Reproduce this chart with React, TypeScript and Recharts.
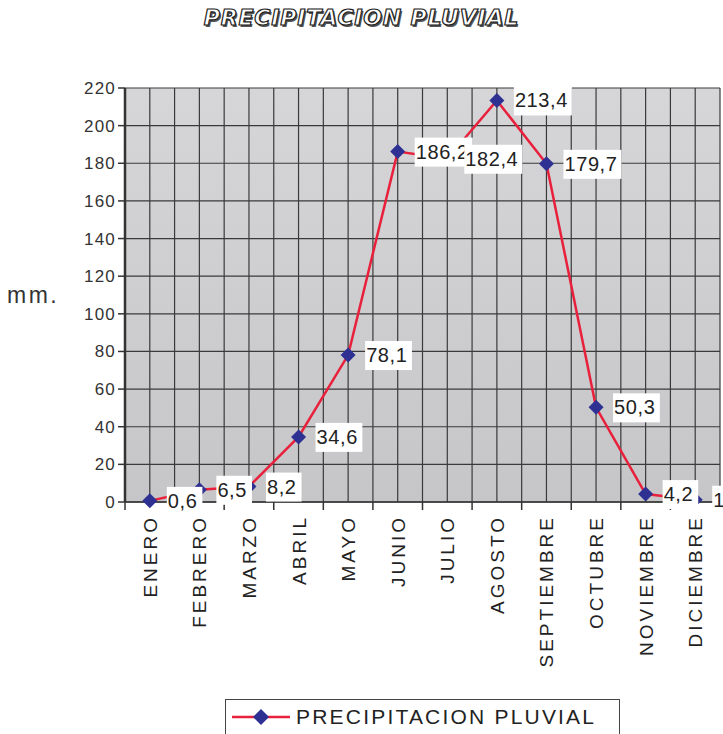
import React from "react";
import {
  LineChart,
  Line,
  XAxis,
  YAxis,
  CartesianGrid,
  Legend,
  LabelList,
} from "recharts";

const MONTHS = [
  "ENERO",
  "FEBRERO",
  "MARZO",
  "ABRIL",
  "MAYO",
  "JUNIO",
  "JULIO",
  "AGOSTO",
  "SEPTIEMBRE",
  "OCTUBRE",
  "NOVIEMBRE",
  "DICIEMBRE",
];
const RAIN = [0.6, 6.5, 8.2, 34.6, 78.1, 186.2, 182.4, 213.4, 179.7, 50.3, 4.2, 1.2];
const Y_TICKS = [0, 20, 40, 60, 80, 100, 120, 140, 160, 180, 200, 220];

const data = MONTHS.map((m, i) => ({ mes: m, pp: RAIN[i] }));

const FONT = "'Liberation Sans', Arial, sans-serif";
const LINE_RED = "#e8203c";
const NAVY = "#2e3192";
const STEP = 595 / 12;

function Diamond({ cx, cy }: any) {
  if (cx == null || cy == null) return null;
  const r = 7.5;
  return (
    <polygon
      points={`${cx},${cy - r} ${cx + r},${cy} ${cx},${cy + r} ${cx - r},${cy}`}
      fill={NAVY}
    />
  );
}

function ValueLabel({ x, y, value }: any) {
  const txt = String(value).replace(".", ",");
  const w = txt.length * 11.2 + 2;
  const left = x + 17;
  return (
    <g>
      <rect x={left} y={y - 14} width={w} height={29} fill="#fff" />
      <text
        x={left + 1}
        y={y + 7}
        fontFamily={FONT}
        fontSize={20}
        letterSpacing={0.6}
        fill="#222"
      >
        {txt}
      </text>
    </g>
  );
}

function MonthTick({ x, y, payload, index }: any) {
  return (
    <g>
      <line x1={x - STEP / 2} y1={y - 8} x2={x - STEP / 2} y2={y} stroke="#333" strokeWidth={1.5} />
      {index === MONTHS.length - 1 && (
        <line x1={x + STEP / 2} y1={y - 8} x2={x + STEP / 2} y2={y} stroke="#333" strokeWidth={1.5} />
      )}
      <text
        transform={`translate(${x + 7},${y + 5}) rotate(-90)`}
        textAnchor="end"
        fontFamily={FONT}
        fontSize={19}
        letterSpacing={3}
        fill="#222"
      >
        {payload.value}
      </text>
    </g>
  );
}

function LegendBox() {
  return (
    <div
      style={{
        width: 395,
        height: 40,
        border: "1px solid #444",
        boxSizing: "border-box",
        display: "flex",
        alignItems: "flex-start",
        paddingTop: 4,
        background: "#fff",
      }}
    >
      <svg width={70} height={26}>
        <line x1={6} y1={13} x2={64} y2={13} stroke={LINE_RED} strokeWidth={2.5} />
        <polygon points="35,5 43,13 35,21 27,13" fill={NAVY} />
      </svg>
      <span
        style={{
          fontFamily: FONT,
          fontSize: 21,
          letterSpacing: 2.2,
          color: "#222",
          lineHeight: "26px",
        }}
      >
        PRECIPITACION PLUVIAL
      </span>
    </div>
  );
}

export default function App() {
  return (
    <div style={{ position: "absolute", left: 0, top: 0, width: 723, height: 734 }}>
      <div
        style={{
          position: "absolute",
          top: 5,
          left: 0,
          width: 723,
          textAlign: "center",
          fontFamily: "'DejaVu Sans', sans-serif",
          fontWeight: 900,
          fontStyle: "italic",
          fontSize: 22,
          letterSpacing: 0.8,
          color: "#fff",
          WebkitTextStroke: "1.2px #222",
          textShadow: "1.5px 1.5px 0 #555",
          zIndex: 2,
        }}
      >
        PRECIPITACION PLUVIAL
      </div>
      <LineChart
        width={723}
        height={734}
        data={data}
        margin={{ top: 88, right: 3, left: 0, bottom: 0 }}
      >
        <defs>
          <linearGradient id="plotBg" x1="0" y1="0" x2="0" y2="1">
            <stop offset="0%" stopColor="#d6d6d8" />
            <stop offset="100%" stopColor="#c6c6c8" />
          </linearGradient>
        </defs>
        <CartesianGrid
          fill="url(#plotBg)"
          fillOpacity={1}
          stroke="#3a3a3a"
          strokeWidth={1.2}
          verticalCoordinatesGenerator={({ offset }: any) =>
            Array.from({ length: 25 }, (_, i) => offset.left + (i * offset.width) / 24)
          }
        />
        <XAxis
          dataKey="mes"
          interval={0}
          height={232}
          padding={{ left: STEP / 2, right: STEP / 2 }}
          axisLine={{ stroke: "#333", strokeWidth: 1.5 }}
          tickLine={false}
          tick={<MonthTick />}
        />
        <YAxis
          width={125}
          domain={[0, 220]}
          ticks={Y_TICKS}
          interval={0}
          axisLine={{ stroke: "#333", strokeWidth: 2.5 }}
          tickLine={{ stroke: "#333", strokeWidth: 1.5 }}
          tickSize={7}
          tick={{ fontFamily: FONT, fontSize: 17, fill: "#333", letterSpacing: 1.2 }}
          label={{
            value: "mm.",
            position: "insideLeft",
            dx: 2,
            dy: 0,
            style: { fontFamily: FONT, fontSize: 23, fill: "#333", letterSpacing: 2.5 },
          }}
        />
        <Line
          dataKey="pp"
          name="PRECIPITACION PLUVIAL"
          stroke={LINE_RED}
          strokeWidth={2.5}
          dot={<Diamond />}
          activeDot={false}
          isAnimationActive={false}
        >
          <LabelList dataKey="pp" content={<ValueLabel />} />
        </Line>
        <Legend
          layout="horizontal"
          verticalAlign="middle"
          content={<LegendBox />}
          wrapperStyle={{ position: "absolute", left: 225, top: 699, width: 395, height: 40 }}
        />
      </LineChart>
    </div>
  );
}
